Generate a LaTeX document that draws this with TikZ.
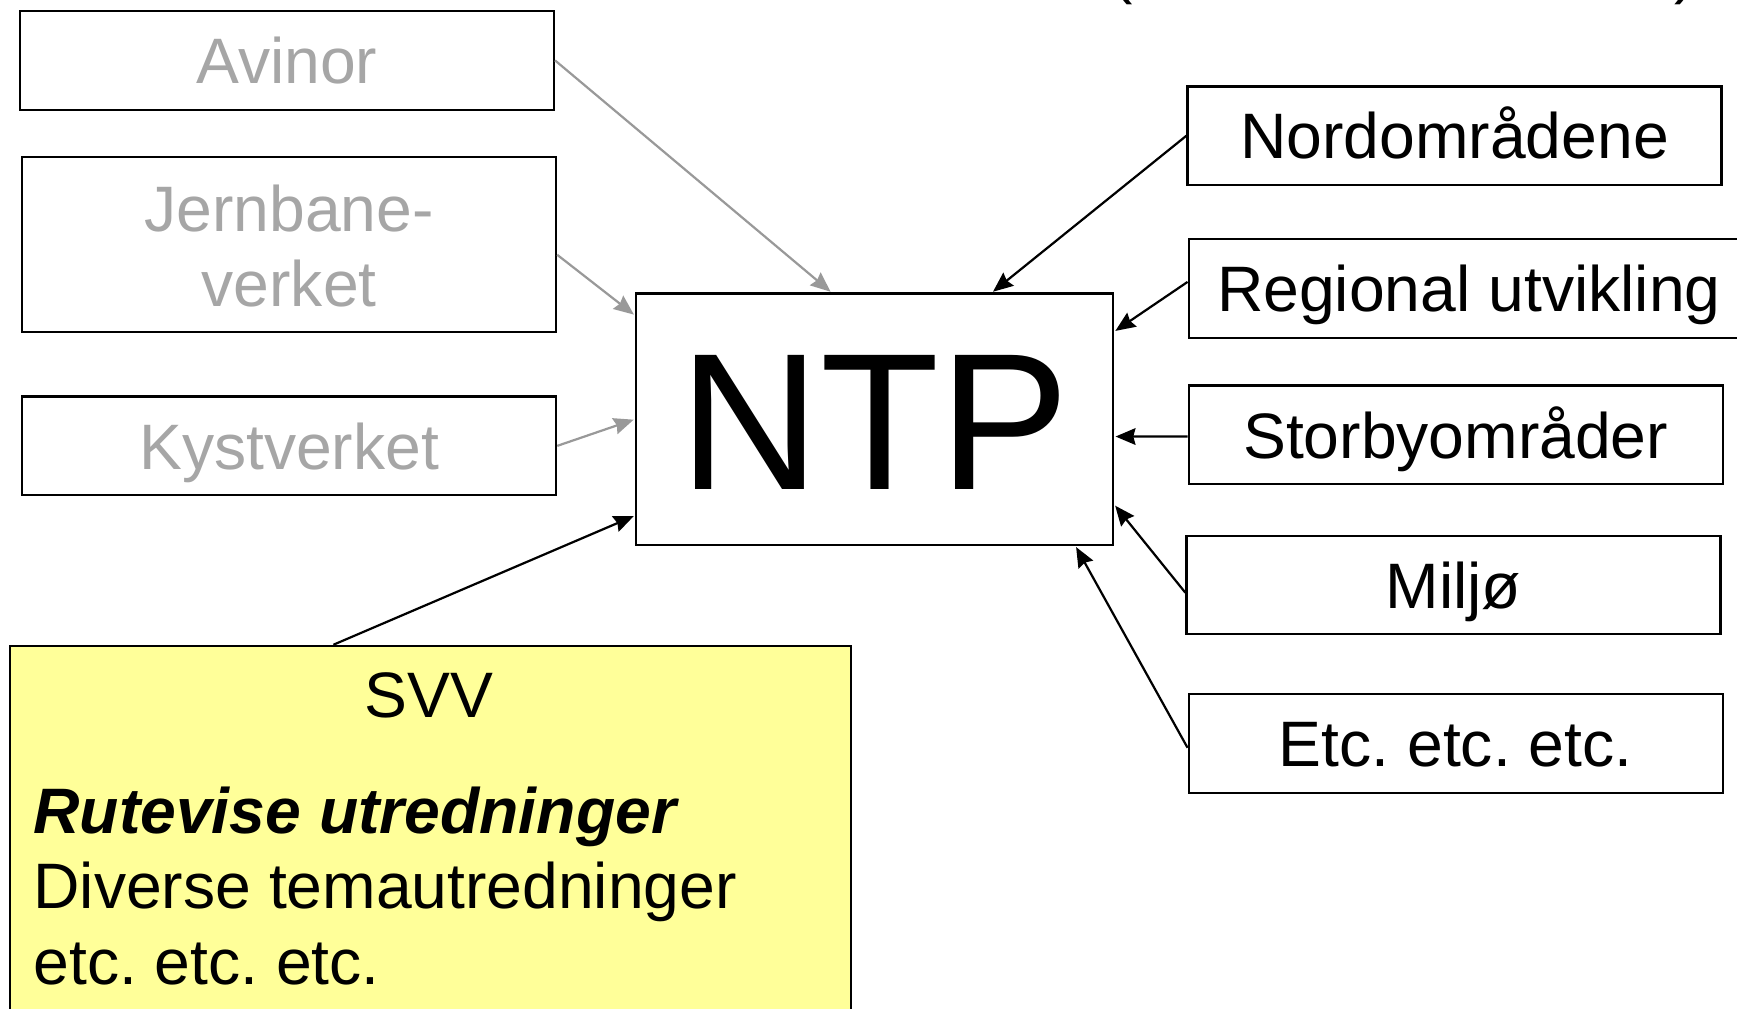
\documentclass[tikz,border=0pt]{standalone}
\usepackage{fontspec}
\setmainfont{Liberation Sans}
\usetikzlibrary{arrows.meta,calc}
\definecolor{svvyellow}{HTML}{FFFF99}
\definecolor{lgray}{HTML}{A6A6A6}
\definecolor{agray}{HTML}{999999}
\frenchspacing
\begin{document}
\begin{tikzpicture}[x=1pt,y=-1pt,
 box/.style={draw=black, line width=2pt, rectangle, inner sep=0pt, minimum width=482pt, minimum height=89pt, font=\fontsize{58}{68}\selectfont, text height=42pt, text depth=0pt},
 greybox/.style={box, text=lgray},
 tip/.style={-{Stealth[length=18pt,width=15pt,inset=2pt]}, shorten >=1pt},
 garrow/.style={draw=agray, line width=2pt, tip},
 barrow/.style={draw=black, line width=2pt, tip},
 txt/.style={inner sep=0pt, anchor=base, font=\fontsize{58}{68}\selectfont}
]
\useasboundingbox (0,0) rectangle (1568,910);

% partial brackets cut at the top edge
\node[txt] (lp) at (1013,-8) {(};
\node[txt] (rp) at (1521,-8) {)};

% left boxes
\node[greybox] (avinor) at (259,54.5) {Avinor};
\node[box, minimum height=158pt] (jern) at (261,221) {};
\node[txt, text=lgray] (jern1) at (261,209) {Jernbane-};
\node[txt, text=lgray] (jern2) at (261,277) {verket};
\node[greybox] (kyst) at (261,402.5) {Kystverket};

% centre
\node[box, minimum width=431pt, minimum height=227pt, font=\fontsize{176}{200}\selectfont, text height=127pt] (ntp) at (789.5,378.5) {NTP};

% right boxes
\node[box] (nord) at (1313,122.5) {Nordområdene};
\node[box, minimum width=506pt] (reg) at (1326,260.5) {Regional utvikling};
\node[box] (storby) at (1314,392.5) {Storbyområder};
\node[box] (miljo) at (1312,528) {Miljø};
\node[box] (etc) at (1314,671) {Etc. etc. etc.};

% SVV box
\node[draw=black, line width=2pt, fill=svvyellow, rectangle, inner sep=0pt, minimum width=759pt, minimum height=360pt, anchor=north west] (svv) at (8,582) {};
\node[txt] (svvt) at (387,648) {SVV};
\node[txt, anchor=base west] (rute) at (30,752) {\bfseries\itshape Rutevise utredninger};
\node[txt, anchor=base west] (div) at (30,820) {Diverse temautredninger};
\node[txt, anchor=base west] (etcl) at (30,889) {etc. etc. etc.};

% connectors
\draw[garrow] (avinor.east) -- ($(ntp.north west)!0.41!(ntp.north east)$);
\draw[garrow] ($(jern.east)+(0,9)$) -- ($(ntp.north west)!0.09!(ntp.south west)$);
\draw[garrow] (kyst.east) -- (ntp.west);
\draw[barrow] ($(svv.north west)!0.385!(svv.north east)$) -- ($(ntp.north west)!0.88!(ntp.south west)$);
\draw[barrow] (nord.west) -- ($(ntp.north west)!0.745!(ntp.north east)$);
\draw[barrow] ($(reg.west)+(0,-6)$) -- ($(ntp.north east)!0.154!(ntp.south east)$);
\draw[barrow] ($(storby.west)+(0,1.5)$) -- ($(ntp.north east)!0.568!(ntp.south east)$);
\draw[barrow] ($(miljo.west)+(0,7)$) -- ($(ntp.north east)!0.837!(ntp.south east)$);
\draw[barrow] ($(etc.west)+(0,4)$) -- ($(ntp.south west)!0.919!(ntp.south east)$);
\end{tikzpicture}
\end{document}
